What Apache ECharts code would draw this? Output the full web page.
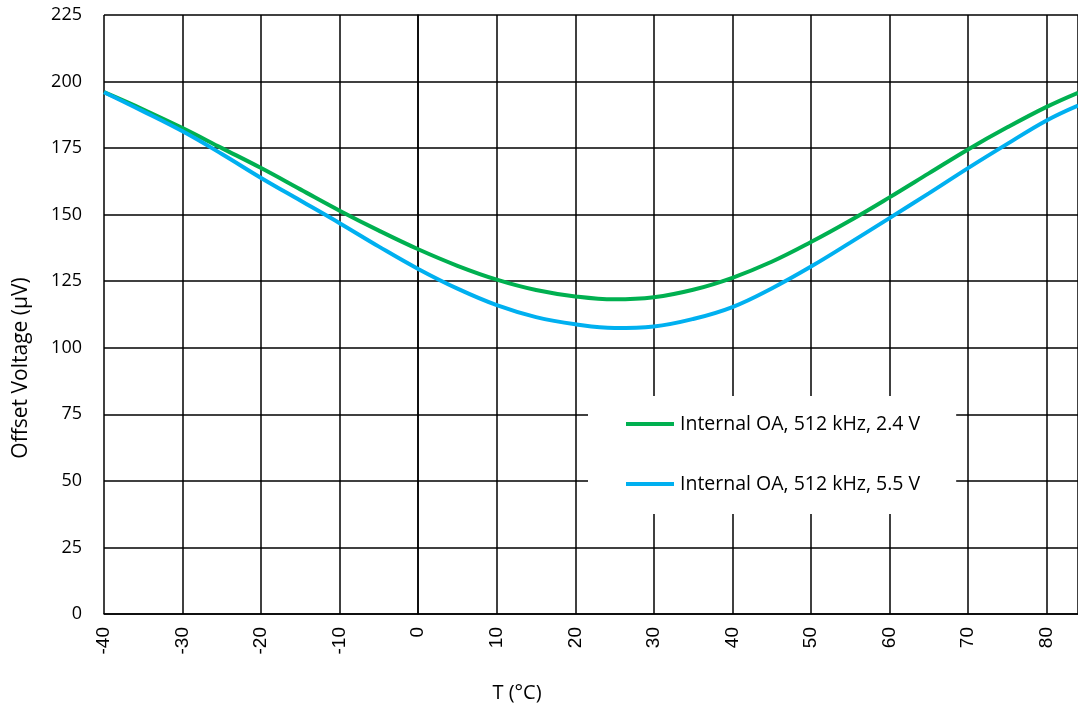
<!DOCTYPE html>
<html>
<head>
<meta charset="utf-8">
<script src="https://cdn.jsdelivr.net/npm/echarts@6/dist/echarts.min.js"></script>
<style>html,body{margin:0;padding:0;background:#fff}#c{width:1078px;height:709px}</style>
</head>
<body>
<div id="c"></div>
<script>
const temps = [-40,-35,-30,-25,-20,-15,-10,-5,0,5,10,15,20,25,30,35,40,45,50,55,60,65,70,75,80,84];
const offset24 = [196,189.5,182.5,175,167.5,159.5,151.5,144,137,130.8,125.6,121.7,119.3,118.2,119,121.8,126.3,132.3,139.7,147.8,156.5,165.5,174.5,182.8,190.5,195.8];
const offset55 = [196,188.8,181.3,172.8,163.8,155.3,146.8,138,129.6,122.2,116,111.5,108.8,107.4,108,110.8,115.3,122.3,130.5,139.5,148.7,158,167.5,176.6,185.4,191];
const seriesNames = ['Internal OA, 512 kHz, 2.4 V','Internal OA, 512 kHz, 5.5 V'];
const xTitle = 'T (°C)';
const yTitle = 'Offset Voltage (µV)';

const chart = echarts.init(document.getElementById('c'));
const pair = (xs, ys) => xs.map((x, i) => [x, ys[i]]);
chart.setOption({
  animation: false,
  grid: {left: 104, top: 15, right: 0, bottom: 95},
  xAxis: {
    type: 'value', min: -40, max: 84, interval: 10,
    axisLine: {show: true, onZero: false, lineStyle: {color: '#000', width: 1.5}},
    axisTick: {show: false},
    axisLabel: {rotate: 90, color: '#000', fontFamily: 'Liberation Sans', fontSize: 19, margin: 13, showMaxLabel: false},
    splitLine: {show: true, lineStyle: {color: '#000', width: 1.5}}
  },
  yAxis: {
    type: 'value', min: 0, max: 225, interval: 25,
    axisLine: {show: true, lineStyle: {color: '#000', width: 1.5}},
    axisTick: {show: false},
    axisLabel: {color: '#000', fontFamily: 'Open Sans', fontSize: 18, margin: 22},
    splitLine: {show: true, lineStyle: {color: '#000', width: 1.5}}
  },
  legend: {
    orient: 'vertical', left: 588, top: 396,
    backgroundColor: '#fff', padding: [16, 36, 18, 38], itemGap: 36,
    icon: 'rect', itemWidth: 48, itemHeight: 4,
    textStyle: {color: '#000', fontFamily: 'Open Sans', fontSize: 19.5, lineHeight: 24, padding: [0, 0, 0, 1]},
    data: seriesNames
  },
  graphic: [
    {type: 'text', x: 21, y: 368, rotation: Math.PI / 2,
     style: {text: yTitle, fontFamily: 'Open Sans', fontSize: 21, fill: '#000', textAlign: 'center', textVerticalAlign: 'middle'}},
    {type: 'text', x: 517, y: 693,
     style: {text: xTitle, fontFamily: 'Open Sans', fontSize: 20, fill: '#000', textAlign: 'center', textVerticalAlign: 'middle'}}
  ],
  series: [
    {name: seriesNames[0], type: 'line', smooth: 0.4, showSymbol: false, data: pair(temps, offset24),
     lineStyle: {color: '#00b050', width: 4}, itemStyle: {color: '#00b050'}, z: 3},
    {name: seriesNames[1], type: 'line', smooth: 0.4, showSymbol: false, data: pair(temps, offset55),
     lineStyle: {color: '#00b0f0', width: 4}, itemStyle: {color: '#00b0f0'}, z: 4}
  ]
});
</script>
</body>
</html>
